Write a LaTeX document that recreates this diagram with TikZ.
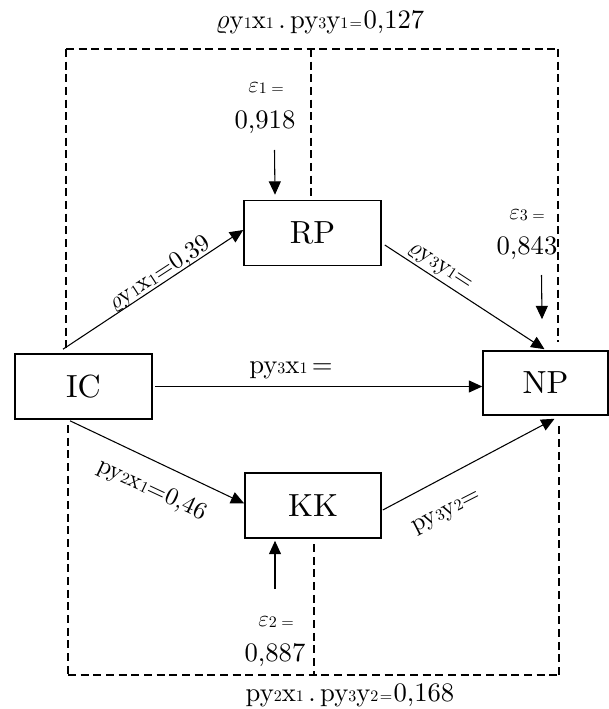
\documentclass[tikz,border=0pt]{standalone}
\usepackage{fontspec}
\setmainfont{lmroman10-regular.otf}
\usetikzlibrary{arrows.meta,calc}
\newcommand{\labfont}{\fontsize{20}{22}\selectfont}
\newcommand{\rotfont}{\fontsize{18.5}{20}\selectfont}
\newcommand{\boxfont}{\fontsize{24}{26}\selectfont}
\newcommand{\smd}[1]{{\fontsize{12}{12}\selectfont\raisebox{-0.5pt}{#1}}}
\newcommand{\vrho}{$\varrho$}
\newcommand{\veps}{{\fontsize{17}{18}\selectfont$\varepsilon$}}
\begin{document}
\begin{tikzpicture}[x=0.75pt,y=-0.75pt,
  box/.style={draw,line width=1.2pt,inner sep=0pt,minimum height=48.75pt,font=\boxfont},
  lab/.style={inner sep=0pt,font=\labfont},
  rlab/.style={inner sep=0pt,font=\rotfont},
  arr/.style={-{Triangle[length=10pt,width=9pt]},line width=0.8pt},
  dsh/.style={line width=1.1pt,dash pattern=on 6pt off 3.5pt}]
\useasboundingbox (0,0) rectangle (609,709);
% boxes
\node[box,minimum width=102.75pt] (IC) at (83.5,386.5) {IC};
\node[box,minimum width=102.75pt] (RP) at (312.5,233) {RP};
\node[box,minimum width=102pt] (KK) at (313,505.5) {KK};
\node[box,minimum width=93.75pt,minimum height=48pt] (NP) at (545.5,383) {NP};
% dashed frame
\coordinate (TL) at (66,49);
\coordinate (TR) at (558,49);
\coordinate (BL) at (68,675);
\coordinate (BR) at (559,675);
\coordinate (TM) at (311,49);
\coordinate (BM) at (314,675);
\draw[dsh] (TL) -- (TR);
\draw[dsh] (BL) -- (BR);
\draw[dsh,shorten >=3pt] (TL) -- (TL |- IC.north);
\draw[dsh,shorten <=4pt] (BL |- IC.south) -- (BL);
\draw[dsh,shorten >=6pt] (TR) -- (TR |- NP.north);
\draw[dsh,shorten <=8pt] (BR |- NP.south) -- (BR);
\draw[dsh] (TM) -- (TM |- RP.north);
\draw[dsh,shorten <=4pt] (BM |- KK.south) -- (BM);
% path arrows
\draw[arr] ([shift={(-20.5,-4)}]IC.north) -- ([shift={(0,-3)}]RP.west);
\draw[arr] ([shift={(3,12)}]RP.east) -- ([shift={(-1,-1)}]NP.north);
\draw[arr,shorten <=2pt] (IC.east) -- (IC.east -| NP.west);
\draw[arr] ([shift={(-13.5,1)}]IC.south) -- ([shift={(0,-2)}]KK.west);
\draw[arr] ([shift={(1,4.5)}]KK.east) -- ([shift={(9,3)}]NP.south);
% error terms
\node[lab] (e1t) at (266,88) {\veps\smd{1}\,\smd{=}};
\node[lab] (e1v) at (265,122) {0,918};
\coordinate (e1a) at (274.5,150);
\draw[arr] (e1a) -- ([shift={(-37.5,-5)}]RP.north);
\node[lab] (e3t) at (527,215) {\veps\smd{3}\,\smd{=}};
\node[lab] (e3v) at (527,248) {0,843};
\coordinate (e3a) at (541.5,275);
\draw[arr] (e3a) -- ([shift={(-3.5,-31)}]NP.north);
\node[lab] (e2t) at (276,622) {\veps\smd{2}\,\smd{=}};
\node[lab] (e2v) at (275,655) {0,887};
\coordinate (e2a) at (275,589);
\draw[arr] (e2a) -- ([shift={(-38,2)}]KK.south);
% coefficient labels
\node[lab] (ltop) at (320,22) {\vrho y\smd{1}x\smd{1}\,.\,py\smd{3}y\smd{1}\kern1pt\smd{=}\kern1pt0,127};
\node[lab] (lbot) at (350,695) {py\smd{2}x\smd{1}\,.\,py\smd{3}y\smd{2}\kern1pt\smd{=}\kern1pt0,168};
\node[lab] (l31) at (291,370) {py\smd{3}x\smd{1}\,=};
\node[rlab,rotate=33] (l11) at (160,274) {\vrho y\smd{1}x\smd{1}=0,39};
\node[rlab,rotate=-33] (l331) at (440,268) {\vrho y\smd{3}y\smd{1}=};
\node[rlab,rotate=-25] (l21) at (152,490) {py\smd{2}x\smd{1}=0,46};
\node[rlab,rotate=27] (l32) at (447,513) {py\smd{3}y\smd{2}=};
\end{tikzpicture}
\end{document}
